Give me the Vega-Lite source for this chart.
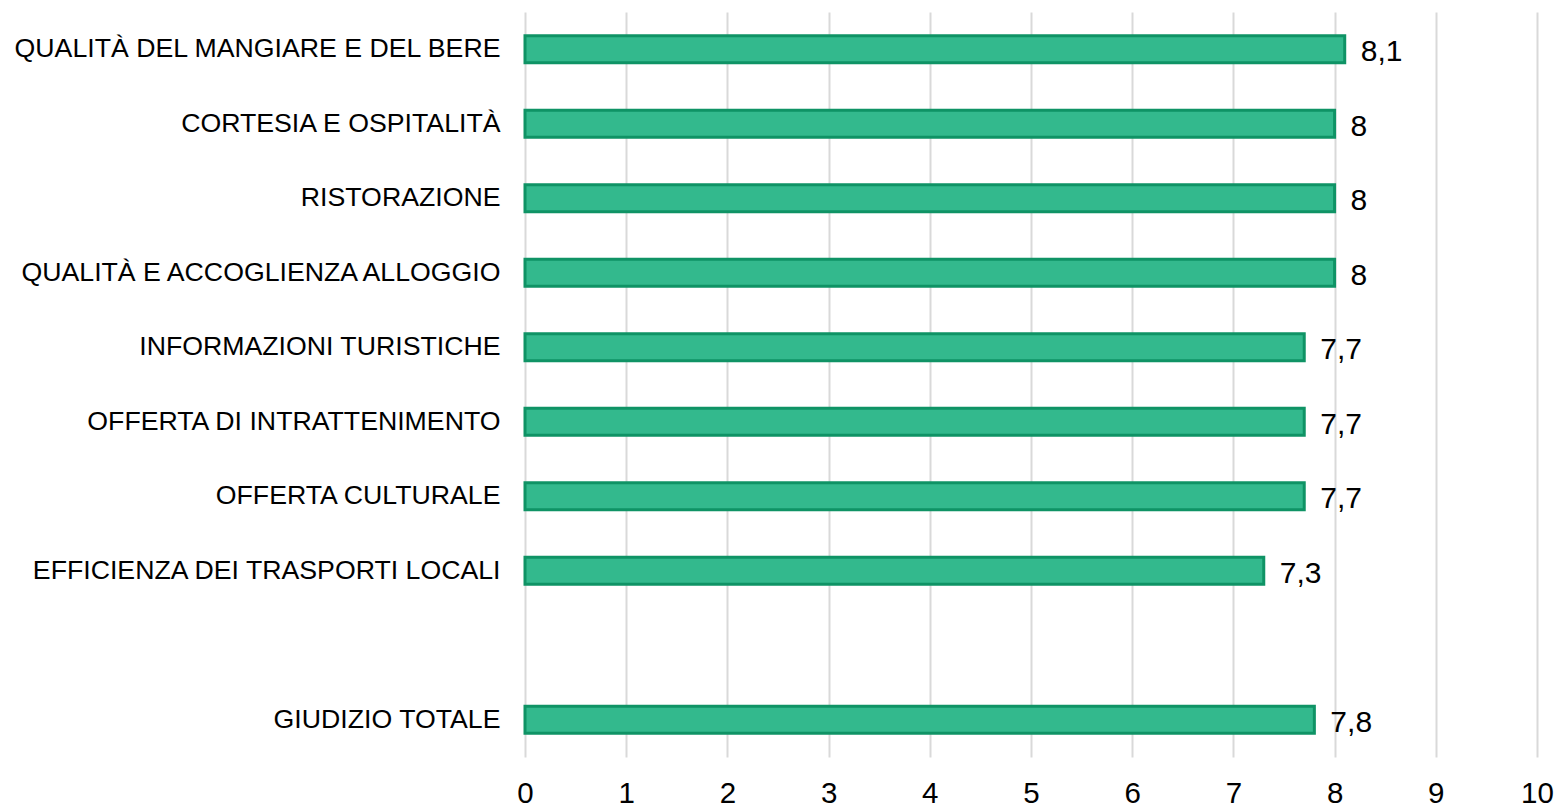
{
  "$schema": "https://vega.github.io/schema/vega-lite/v6.json",
  "autosize": {"type": "none"},
  "padding": {"left": 525, "top": 12, "right": 18, "bottom": 51},
  "width": 1012,
  "height": 745,
  "background": "white",
  "config": {"view": {"stroke": null}, "font": "Liberation Sans"},
  "data": {
    "values": [
      {"aspetto": "QUALITÀ DEL MANGIARE E DEL BERE", "voto": 8.1, "etichetta": "8,1"},
      {"aspetto": "CORTESIA E OSPITALITÀ", "voto": 8.0, "etichetta": "8"},
      {"aspetto": "RISTORAZIONE", "voto": 8.0, "etichetta": "8"},
      {"aspetto": "QUALITÀ E ACCOGLIENZA ALLOGGIO", "voto": 8.0, "etichetta": "8"},
      {"aspetto": "INFORMAZIONI TURISTICHE", "voto": 7.7, "etichetta": "7,7"},
      {"aspetto": "OFFERTA DI INTRATTENIMENTO", "voto": 7.7, "etichetta": "7,7"},
      {"aspetto": "OFFERTA CULTURALE", "voto": 7.7, "etichetta": "7,7"},
      {"aspetto": "EFFICIENZA DEI TRASPORTI LOCALI", "voto": 7.3, "etichetta": "7,3"},
      {"aspetto": "GIUDIZIO TOTALE", "voto": 7.8, "etichetta": "7,8"}
    ]
  },
  "encoding": {
    "y": {
      "field": "aspetto",
      "type": "nominal",
      "scale": {
        "domain": ["QUALITÀ DEL MANGIARE E DEL BERE", "CORTESIA E OSPITALITÀ", "RISTORAZIONE", "QUALITÀ E ACCOGLIENZA ALLOGGIO", "INFORMAZIONI TURISTICHE", "OFFERTA DI INTRATTENIMENTO", "OFFERTA CULTURALE", "EFFICIENZA DEI TRASPORTI LOCALI", " ", "GIUDIZIO TOTALE"],
        "paddingInner": 0.64,
        "paddingOuter": 0.32
      },
      "axis": {
        "title": null,
        "domain": false,
        "ticks": false,
        "grid": false,
        "labelFontSize": 26.7,
        "labelColor": "#000000",
        "labelPadding": 25,
        "labelLimit": 600
      }
    },
    "x": {
      "field": "voto",
      "type": "quantitative",
      "scale": {"domain": [0, 10], "nice": false},
      "axis": {
        "title": null,
        "domain": false,
        "ticks": false,
        "values": [0, 1, 2, 3, 4, 5, 6, 7, 8, 9, 10],
        "labelFontSize": 29.5,
        "labelColor": "#000000",
        "labelPadding": 22,
        "grid": true,
        "gridColor": "#d9d9d9",
        "gridWidth": 2,
        "labelFlush": false
      }
    }
  },
  "layer": [
    {
      "mark": {"type": "bar", "fill": "#33b98d", "stroke": "#0f9365", "strokeWidth": 3, "cornerRadius": 0}
    },
    {
      "mark": {"type": "text", "align": "left", "baseline": "middle", "dx": 16, "dy": 3, "fontSize": 30, "color": "#000000"},
      "encoding": {"text": {"field": "etichetta"}}
    }
  ]
}
